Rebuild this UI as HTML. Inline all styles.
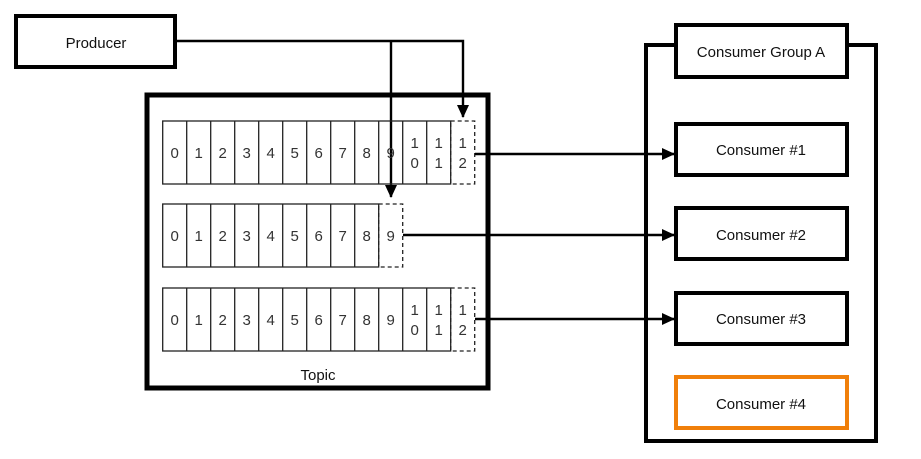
<!DOCTYPE html>
<html><head><style>body{margin:0;background:#fff}svg{display:block}</style></head><body>
<svg width="921" height="459" viewBox="0 0 921 459" xmlns="http://www.w3.org/2000/svg" font-family="Liberation Sans, sans-serif" fill="none">
<defs><marker id="a" markerWidth="13" markerHeight="12" refX="12" refY="6" orient="auto" markerUnits="userSpaceOnUse"><path d="M0,0 L13,6 L0,12 z" fill="#000"/></marker></defs>
<rect x="16" y="16" width="159" height="51" stroke="#000" stroke-width="4" fill="#fff"/>
<text x="96" y="48" font-size="15" fill="#111" text-anchor="middle">Producer</text>
<path d="M177 41 H463 V117" stroke="#000" stroke-width="2.4" marker-end="url(#a)"/>
<path d="M391 41 V197" stroke="#000" stroke-width="2.4" marker-end="url(#a)"/>
<rect x="147" y="95" width="341" height="293" stroke="#000" stroke-width="5"/>
<text x="318" y="380" font-size="15" fill="#111" text-anchor="middle">Topic</text>
<g stroke="#222" stroke-width="1.3" fill="none">
<rect x="162.7" y="121" width="288" height="63"/>
<path d="M186.7 121V184M210.7 121V184M234.7 121V184M258.7 121V184M282.7 121V184M306.7 121V184M330.7 121V184M354.7 121V184M378.7 121V184M402.7 121V184M426.7 121V184"/>
<rect x="450.7" y="121" width="24" height="63" stroke-dasharray="4,3"/>
<rect x="162.7" y="204" width="216" height="63"/>
<path d="M186.7 204V267M210.7 204V267M234.7 204V267M258.7 204V267M282.7 204V267M306.7 204V267M330.7 204V267M354.7 204V267"/>
<rect x="378.7" y="204" width="24" height="63" stroke-dasharray="4,3"/>
<rect x="162.7" y="288" width="288" height="63"/>
<path d="M186.7 288V351M210.7 288V351M234.7 288V351M258.7 288V351M282.7 288V351M306.7 288V351M330.7 288V351M354.7 288V351M378.7 288V351M402.7 288V351M426.7 288V351"/>
<rect x="450.7" y="288" width="24" height="63" stroke-dasharray="4,3"/>
</g>
<g font-size="15" fill="#333" text-anchor="middle">
<text y="158"><tspan x="174.7">0</tspan><tspan x="198.7">1</tspan><tspan x="222.7">2</tspan><tspan x="246.7">3</tspan><tspan x="270.7">4</tspan><tspan x="294.7">5</tspan><tspan x="318.7">6</tspan><tspan x="342.7">7</tspan><tspan x="366.7">8</tspan><tspan x="390.7">9</tspan></text>
<text y="148"><tspan x="414.7">1</tspan><tspan x="438.7">1</tspan><tspan x="462.7">1</tspan></text>
<text y="168"><tspan x="414.7">0</tspan><tspan x="438.7">1</tspan><tspan x="462.7">2</tspan></text>
<text y="241"><tspan x="174.7">0</tspan><tspan x="198.7">1</tspan><tspan x="222.7">2</tspan><tspan x="246.7">3</tspan><tspan x="270.7">4</tspan><tspan x="294.7">5</tspan><tspan x="318.7">6</tspan><tspan x="342.7">7</tspan><tspan x="366.7">8</tspan><tspan x="390.7">9</tspan></text>
<text y="325"><tspan x="174.7">0</tspan><tspan x="198.7">1</tspan><tspan x="222.7">2</tspan><tspan x="246.7">3</tspan><tspan x="270.7">4</tspan><tspan x="294.7">5</tspan><tspan x="318.7">6</tspan><tspan x="342.7">7</tspan><tspan x="366.7">8</tspan><tspan x="390.7">9</tspan></text>
<text y="315"><tspan x="414.7">1</tspan><tspan x="438.7">1</tspan><tspan x="462.7">1</tspan></text>
<text y="335"><tspan x="414.7">0</tspan><tspan x="438.7">1</tspan><tspan x="462.7">2</tspan></text>
</g>
<rect x="646" y="45" width="230" height="396" stroke="#000" stroke-width="4" fill="#fff"/>
<rect x="676" y="25" width="171" height="52" stroke="#000" stroke-width="4" fill="#fff"/>
<text x="761" y="57" font-size="15" fill="#111" text-anchor="middle">Consumer Group A</text>
<g stroke="#000" stroke-width="2.4">
<path d="M475 154 H674" marker-end="url(#a)"/>
<path d="M403 235 H674" marker-end="url(#a)"/>
<path d="M475 319 H674" marker-end="url(#a)"/>
</g>
<g stroke-width="4" fill="#fff">
<rect x="676" y="124" width="171" height="51" stroke="#000"/>
<rect x="676" y="208" width="171" height="51" stroke="#000"/>
<rect x="676" y="293" width="171" height="51" stroke="#000"/>
<rect x="676" y="377" width="171" height="51" stroke="#f07f0a"/>
</g>
<g font-size="15" fill="#111" text-anchor="middle">
<text x="761" y="155">Consumer #1</text>
<text x="761" y="240">Consumer #2</text>
<text x="761" y="324">Consumer #3</text>
<text x="761" y="409">Consumer #4</text>
</g>
</svg>
</body></html>
